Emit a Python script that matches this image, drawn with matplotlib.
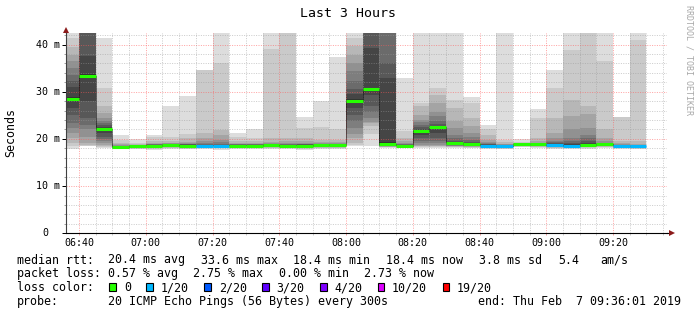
import numpy as np
import matplotlib
matplotlib.use("Agg")
import matplotlib.pyplot as plt
import matplotlib.dates as mdates
from matplotlib.patches import Rectangle
from datetime import datetime, timedelta

nan = float("nan")

# ---------------- data ----------------
title = "Last 3 Hours"
y_label = "Seconds"
x_tick_labels = ["06:40", "07:00", "07:20", "07:40", "08:00", "08:20", "08:40", "09:00", "09:20"]
y_tick_values = [0, 10, 20, 30, 40]
y_tick_labels = ["0", "10 m", "20 m", "30 m", "40 m"]

# sorted ping times (ms) of the 20 pings per 5-minute step, named by step end time
s0640 = [17.9, 18.5, 19.1, 20.2, 21.2, 22.3, 23.4, 25.1, 26.6, 28.2, 28.8, 31.1, 32.2, 33.5, 35.0, 36.4, 37.8, 39.5, 41.3, 60]
s0645 = [18.4, 18.6, 18.8, 19.1, 20.5, 22.0, 23.0, 24.4, 28.0, 33.0, 33.8, 37.5, 45, 48, 50, 55, 60, 65, 70, 80]
s0650 = [18.1, 18.3, 18.5, 18.8, 19.1, 19.5, 20.0, 20.5, 21.2, 22.0, 22.3, 22.6, 23.0, 23.4, 23.8, 24.5, 25.5, 26.9, 30.8, 41.4]
s0655 = [17.8, 17.9, 17.95, 18.0, 18.05, 18.1, 18.15, 18.2, 18.25, 18.3, 18.35, 18.4, 18.45, 18.5, 18.6, 18.7, 18.9, 19.2, 19.8, 20.8]
s0700 = [17.8, 17.9, 18.0, 18.1, 18.15, 18.2, 18.25, 18.3, 18.35, 18.4, 18.45, 18.5, 18.55, 18.6, 18.65, 18.7, 18.8, 18.9, 19.2, 20.0]
s0705 = [17.6, 17.8, 18.0, 18.1, 18.2, 18.3, 18.4, 18.45, 18.5, 18.6, 18.7, 18.75, 18.8, 18.85, 18.9, 19.0, 19.2, 19.6, 20.3, 20.9]
s0710 = [17.9, 18.0, 18.1, 18.2, 18.3, 18.4, 18.5, 18.6, 18.7, 18.75, 18.8, 18.85, 18.9, 18.95, 19.0, 19.1, 19.2, 19.5, 20.5, 27.0]
s0715 = [17.8, 17.9, 18.0, 18.1, 18.2, 18.3, 18.4, 18.45, 18.5, 18.6, 18.7, 18.8, 18.85, 18.9, 19.0, 19.1, 19.3, 20.2, 21.0, 29.1]
s0720 = [17.9, 18.0, 18.1, 18.2, 18.25, 18.3, 18.35, 18.4, 18.4, 18.45, 18.5, 18.6, 18.7, 18.9, 19.1, 19.5, 20.2, 21.3, 34.7, nan]
s0725 = [17.7, 18.0, 18.2, 18.3, 18.35, 18.4, 18.45, 18.5, 18.55, 18.6, 18.65, 18.7, 18.8, 19.0, 19.3, 19.8, 20.8, 21.95, 36.1, 60]
s0730 = [17.9, 18.0, 18.1, 18.2, 18.3, 18.4, 18.45, 18.5, 18.55, 18.6, 18.7, 18.75, 18.8, 18.85, 18.9, 19.0, 19.2, 19.6, 20.4, 21.2]
s0735 = [17.9, 18.0, 18.1, 18.2, 18.3, 18.4, 18.45, 18.5, 18.55, 18.6, 18.7, 18.75, 18.8, 18.85, 18.9, 19.0, 19.2, 19.5, 20.2, 22.1]
s0740 = [17.9, 18.0, 18.1, 18.2, 18.3, 18.4, 18.5, 18.6, 18.7, 18.75, 18.8, 18.85, 18.9, 18.95, 19.0, 19.1, 19.4, 20.2, 39.1, 60]
s0745 = [17.9, 18.0, 18.1, 18.2, 18.3, 18.4, 18.45, 18.5, 18.55, 18.6, 18.7, 18.75, 18.8, 18.9, 19.0, 19.2, 19.6, 20.2, 60, 70]
s0750 = [17.7, 17.9, 18.0, 18.1, 18.2, 18.3, 18.4, 18.5, 18.55, 18.6, 18.7, 18.8, 18.85, 18.9, 19.0, 19.2, 19.5, 20.2, 22.3, 24.6]
s0755 = [17.8, 18.0, 18.1, 18.2, 18.3, 18.4, 18.5, 18.6, 18.7, 18.75, 18.8, 18.85, 18.9, 18.95, 19.0, 19.1, 19.3, 19.8, 22.5, 28.1]
s0800 = [17.8, 18.0, 18.1, 18.2, 18.3, 18.4, 18.5, 18.6, 18.7, 18.75, 18.8, 18.85, 18.9, 18.95, 19.0, 19.1, 19.3, 19.8, 22.0, 37.4]
s0805 = [18.4, 18.7, 19.1, 20.2, 21.0, 22.3, 23.7, 25.1, 26.5, 27.8, 28.5, 29.5, 30.5, 32.2, 34.3, 36.1, 37.8, 39.6, 41.4, 60]
s0810 = [18.5, 21.0, 22.8, 23.4, 23.6, 24.4, 25.8, 26.9, 29.4, 30.4, 30.8, 39.2, 50, 55, 60, 65, 70, 75, 80, 90]
s0815 = [18.1, 18.2, 18.3, 18.35, 18.4, 18.45, 18.5, 18.6, 18.7, 18.8, 19.3, 33.0, 36.1, 50, 55, 60, 65, 70, 80, 90]
s0820 = [18.0, 18.1, 18.2, 18.3, 18.35, 18.4, 18.45, 18.5, 18.55, 18.6, 18.7, 18.75, 18.8, 18.85, 18.95, 19.1, 19.5, 20.2, 21.6, 32.9]
s0825 = [18.1, 18.2, 18.4, 18.6, 18.8, 19.1, 19.6, 20.2, 20.8, 21.5, 21.7, 22.0, 22.5, 23.0, 23.5, 24.1, 25.1, 26.9, 27.6, 60]
s0830 = [18.1, 18.3, 18.4, 18.6, 18.8, 19.1, 19.6, 20.2, 21.3, 22.4, 22.6, 22.8, 23.2, 23.7, 24.8, 25.8, 27.6, 29.4, 30.8, 60]
s0835 = [18.0, 18.2, 18.3, 18.4, 18.5, 18.6, 18.7, 18.8, 18.9, 19.05, 19.15, 19.3, 19.6, 20.2, 20.9, 22.3, 23.7, 26.55, 28.3, 60]
s0840 = [18.0, 18.1, 18.2, 18.3, 18.4, 18.5, 18.55, 18.65, 18.75, 18.85, 19.0, 19.1, 19.4, 19.8, 20.4, 21.3, 22.7, 24.4, 27.6, 28.9]
s0845 = [17.9, 18.0, 18.1, 18.2, 18.3, 18.35, 18.4, 18.45, 18.5, 18.6, 18.7, 18.8, 18.85, 18.95, 19.1, 19.4, 19.8, 20.9, 22.0, 23.0]
s0850 = [17.8, 17.9, 18.0, 18.1, 18.15, 18.2, 18.25, 18.3, 18.35, 18.4, 18.5, 18.6, 18.65, 18.7, 18.75, 18.85, 19.0, 19.3, 19.8, 60]
s0855 = [18.2, 18.3, 18.4, 18.5, 18.6, 18.65, 18.7, 18.75, 18.8, 18.83, 18.85, 18.86, 18.88, 18.9, 18.95, 19.0, 19.1, 19.2, 19.4, 19.9]
s0900 = [18.1, 18.2, 18.3, 18.4, 18.5, 18.6, 18.65, 18.7, 18.78, 18.83, 18.87, 18.9, 18.93, 18.98, 19.05, 19.2, 19.5, 20.2, 24.4, 26.3]
s0905 = [17.9, 18.0, 18.1, 18.2, 18.3, 18.4, 18.45, 18.5, 18.6, 18.7, 18.8, 18.95, 19.1, 19.3, 19.6, 20.2, 21.3, 24.4, 30.8, 34.5]
s0910 = [17.9, 18.0, 18.1, 18.2, 18.25, 18.3, 18.35, 18.4, 18.45, 18.5, 18.8, 19.0, 19.2, 19.6, 20.2, 22.0, 24.8, 28.3, 38.9, 60]
s0915 = [17.9, 18.1, 18.2, 18.3, 18.35, 18.4, 18.45, 18.5, 18.6, 18.7, 18.9, 19.2, 19.6, 20.2, 20.8, 22.3, 25.3, 26.9, 60, 70]
s0920 = [18.0, 18.2, 18.3, 18.4, 18.5, 18.6, 18.65, 18.7, 18.78, 18.83, 18.87, 18.9, 18.95, 19.05, 19.2, 19.5, 20.2, 22.0, 36.4, 60]
s0925 = [17.9, 18.0, 18.1, 18.2, 18.3, 18.35, 18.4, 18.45, 18.5, 18.55, 18.6, 18.65, 18.7, 18.75, 18.8, 18.9, 19.1, 19.5, 24.6, nan]
s0930 = [17.8, 17.9, 18.0, 18.1, 18.15, 18.2, 18.25, 18.3, 18.35, 18.4, 18.45, 18.5, 18.55, 18.6, 18.7, 18.8, 19.0, 19.5, 41.0, 60]

smoke_columns = [s0640, s0645, s0650, s0655, s0700, s0705, s0710, s0715, s0720, s0725,
                 s0730, s0735, s0740, s0745, s0750, s0755, s0800, s0805, s0810, s0815,
                 s0820, s0825, s0830, s0835, s0840, s0845, s0850, s0855, s0900, s0905,
                 s0910, s0915, s0920, s0925, s0930]

median_ms = [28.5, 33.4, 22.1, 18.3, 18.4, 18.6, 18.8, 18.6, 18.4, 18.5,
             18.6, 18.6, 18.8, 18.6, 18.6, 18.8, 18.8, 28.1, 30.6, 18.9,
             18.6, 21.6, 22.5, 19.1, 18.9, 18.6, 18.4, 18.85, 18.85, 18.7,
             18.6, 18.7, 18.85, 18.6, 18.4]

lost_pings = [0, 0, 0, 0, 0, 0, 0, 0, 1, 1,
              0, 0, 0, 0, 0, 0, 0, 0, 0, 0,
              0, 0, 0, 0, 0, 1, 1, 0, 0, 1,
              1, 0, 0, 1, 1]

loss_levels = [0, 1, 2, 3, 4, 10, 19]
loss_labels = ["0", "1/20", "2/20", "3/20", "4/20", "10/20", "19/20"]
loss_colors = ["#26ff00", "#00b8ff", "#0059ff", "#5e00ff", "#7e00ff", "#dd00ff", "#ff0000"]

line_rtt = ["median rtt:", "20.4 ms avg", "33.6 ms max", "18.4 ms min", "18.4 ms now", "3.8 ms sd", "5.4", "am/s"]
line_loss = ["packet loss:", "0.57 % avg", "2.75 % max", "0.00 % min", "2.73 % now"]
probe_text = "20 ICMP Echo Pings (56 Bytes) every 300s"
end_text = "end: Thu Feb  7 09:36:01 2019"
watermark = "RRDTOOL / TOBI OETIKER"

t_start = datetime(2019, 2, 7, 6, 36, 1)
t_end = datetime(2019, 2, 7, 9, 36, 1)
first_step_end = datetime(2019, 2, 7, 6, 40)
step = timedelta(minutes=5)

# ---------------- layout ----------------
W, H = 697, 315
MONO = "DejaVu Sans Mono"
plt.rcParams["font.family"] = [MONO, "DejaVu Sans"]

fig = plt.figure(figsize=(W / 100, H / 100), dpi=100)
fig.patch.set_facecolor("white")
ax_l, ax_r, ax_t, ax_b = 65.7, 666.5, 32.7, 233.3
ax = fig.add_axes([ax_l / W, 1 - ax_b / H, (ax_r - ax_l) / W, (ax_b - ax_t) / H])
ax.set_facecolor("white")
YTOP = 42.5
ax.set_ylim(0, YTOP)
ax.set_xlim(mdates.date2num(t_start), mdates.date2num(t_end))


def gray_for_band(k):
    d = min(k + 1, 19 - k)
    g = int(190 / 10 * (10 - d)) + 50
    return (g / 255, g / 255, g / 255)


bx, bh, bb, bc = [], [], [], []
col_starts, col_ends = [], []
for i, pings in enumerate(smoke_columns):
    end = first_step_end + i * step
    x0 = mdates.date2num(end - step)
    x1 = mdates.date2num(end)
    col_starts.append(x0)
    col_ends.append(x1)
    for k in range(19):
        lo, hi = pings[k], pings[k + 1]
        if np.isnan(lo) or np.isnan(hi) or hi <= lo:
            continue
        bx.append(x0)
        bh.append(hi - lo)
        bb.append(lo)
        bc.append(gray_for_band(k))
step_w = col_ends[0] - col_starts[0]
ax.bar(bx, bh, width=step_w, bottom=bb, align="edge", color=bc, linewidth=0,
       antialiased=False, zorder=1)

# grid
minor_c = (0.6, 0.6, 0.6, 0.5)
major_c = (1.0, 0.35, 0.35, 0.55)
for yv in range(2, 43, 2):
    ax.axhline(yv, color=major_c if yv % 10 == 0 else minor_c, lw=0.72,
               linestyle=(0, (1, 1.4)), zorder=2)
t = first_step_end
while t < t_end:
    ax.axvline(mdates.date2num(t), color=major_c if t.minute % 20 == 0 else minor_c,
               lw=0.72, linestyle=(0, (1, 1.4)), zorder=2)
    t += step

# median line with loss colour
color_of = dict(zip(loss_levels, loss_colors))
for i, m in enumerate(median_ms):
    if i > 0:
        ax.plot([col_starts[i], col_starts[i]], [median_ms[i - 1], m], color="black",
                lw=0.72, linestyle=(0, (1, 1)), zorder=3)
for i, m in enumerate(median_ms):
    ax.plot([col_starts[i], col_ends[i]], [m, m], color=color_of[lost_pings[i]],
            lw=2.2, solid_capstyle="butt", zorder=4)

# axes styling
for s in ["top", "right"]:
    ax.spines[s].set_visible(False)
ax.spines["left"].set_color("#404040")
ax.spines["left"].set_linewidth(0.8)
ax.spines["bottom"].set_color("black")
ax.spines["bottom"].set_linewidth(0.8)
ax.spines["left"].set_zorder(5)
ax.spines["bottom"].set_zorder(5)

major_x = [mdates.date2num(datetime(2019, 2, 7, 6, 40) + timedelta(minutes=20 * j))
           for j in range(len(x_tick_labels))]
ax.set_xticks(major_x)
ax.set_xticklabels(x_tick_labels, fontsize=7.2, family=MONO)
ax.xaxis.set_minor_locator(mdates.MinuteLocator(byminute=range(0, 60, 5)))
ax.tick_params(axis="x", which="major", length=1.6, width=0.72, color="#f2a0a0", pad=1.6)
ax.tick_params(axis="x", which="minor", length=1.6, width=0.72, color="#cccccc")

ax.set_yticks(y_tick_values)
ax.set_yticks(list(range(0, 43, 2)), minor=True)
ax.set_yticklabels([])
ax.tick_params(axis="y", which="major", length=3.0, width=0.72, color="black")
ax.tick_params(axis="y", which="minor", length=1.5, width=0.72, color="#a0a0a0")

ytr = ax.get_yaxis_transform()
axw = ax_r - ax_l
for v, lab in zip(y_tick_values, y_tick_labels):
    right_px = 48.6 if lab == "0" else 60.3
    ax.text((right_px - ax_l) / axw, v, lab, transform=ytr, ha="right", va="center",
            fontsize=7.2, family=MONO, clip_on=False)

# axis arrows
ax.plot([0, 0], [1.0, 1.0 + 3.5 / (ax_b - ax_t)], transform=ax.transAxes, color="#404040",
        lw=0.8, clip_on=False, zorder=5)
ax.plot([0], [1.0 + 3.0 / (ax_b - ax_t)], marker="^", ms=4.2, color="#8b1a1a",
        transform=ax.transAxes, clip_on=False, zorder=6, markeredgewidth=0)
ax.plot([1.0, 1.0 + 3 / axw], [0, 0], transform=ax.transAxes, color="black",
        lw=0.8, clip_on=False, zorder=5)
ax.plot([1.0 + 5.0 / axw], [0], marker=">", ms=4.2, color="#8b1a1a",
        transform=ax.transAxes, clip_on=False, zorder=6, markeredgewidth=0)

# texts
def ftext(x, y, s, **kw):
    fig.text(x / W, 1 - y / H, s, family=MONO, **kw)

ftext(347.5, 13.5, title, ha="center", va="center", fontsize=9.5)
ftext(10.5, 132.5, y_label, ha="center", va="center", fontsize=8.4, rotation=90)
ftext(688.5, 60, watermark, ha="center", va="center", fontsize=6, rotation=270, color="#a8a8a8")

FS = 8.35
rtt_x = [16.7, 107.6, 200.9, 293.3, 385.8, 479.1, 557.8, 600.0]
for x, s in zip(rtt_x, line_rtt):
    ftext(x, 263.5, s, ha="left", va="baseline", fontsize=FS)
loss_x = [16.7, 107.6, 193.3, 279.1, 364.4]
for x, s in zip(loss_x, line_loss):
    ftext(x, 277.4, s, ha="left", va="baseline", fontsize=FS)
ftext(16.7, 291.4, "loss color:", ha="left", va="baseline", fontsize=FS)
box_x = [109.0, 146.0, 204.0, 262.0, 320.0, 377.5, 442.5]
lab_x = [124.0, 160.5, 218.7, 276.4, 334.2, 392.0, 456.9]
for bxp, lxp, lab, col in zip(box_x, lab_x, loss_labels, loss_colors):
    fig.add_artist(Rectangle((bxp / W, 1 - 291.3 / H), 6.8 / W, 8.2 / H,
                             transform=fig.transFigure, facecolor=col,
                             edgecolor="black", linewidth=0.8))
    ftext(lxp, 291.4, lab, ha="left", va="baseline", fontsize=FS)
ftext(16.7, 305.4, "probe:", ha="left", va="baseline", fontsize=FS)
ftext(107.6, 305.4, probe_text, ha="left", va="baseline", fontsize=FS)
ftext(681.0, 305.4, end_text, ha="right", va="baseline", fontsize=FS)

fig.savefig("out.png", dpi=100, facecolor="white")
